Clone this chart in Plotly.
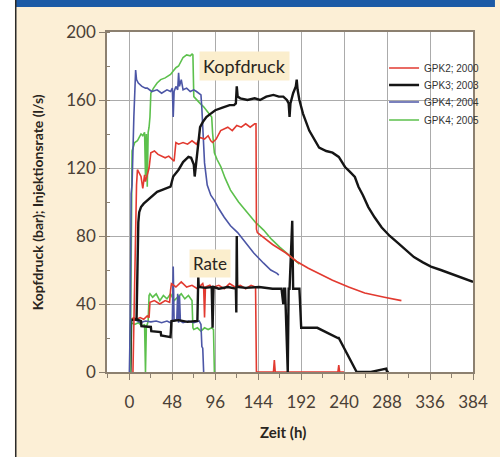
import plotly.graph_objects as go

# ---------------- data ----------------
series_names = ["GPK2; 2000", "GPK3; 2003", "GPK4; 2004", "GPK4; 2005"]

# GPK2; 2000 (red)
gpk2_p_t = [4, 6, 8, 9, 11, 13, 15, 17, 18, 20, 22, 24, 28, 32, 36, 40, 44, 48, 50, 52, 55, 60, 65, 70, 75, 79, 84, 88, 91, 93, 97, 102, 106, 110, 115, 120, 125, 130, 135, 140, 141.5, 142, 143, 150, 160, 175, 187, 200, 215, 227, 245, 263, 285, 304]
gpk2_p_v = [0, 60, 110, 119, 117, 115, 108, 116, 112, 117, 120, 129, 130, 128, 127, 126, 127, 125, 124, 135, 134, 135, 134, 136, 134, 138, 137, 139, 136, 135, 137, 142, 143, 144, 142, 145, 144, 146, 144, 146, 146, 84, 82, 79, 75, 70, 65, 61, 57, 54, 50, 46.5, 44, 42]
gpk2_r_t = [0, 1, 2, 5, 8, 12, 16, 20, 22, 23, 28, 34, 40, 45, 46, 47, 52, 58, 64, 70, 76, 82, 83, 84, 85, 90, 92, 93, 94, 100, 106, 112, 118, 124, 130, 136, 141, 142, 150, 161, 162, 163, 200, 233, 234, 235, 240]
gpk2_r_v = [0, 0, 31, 32, 31, 32, 31, 33, 32, 41, 42, 40, 42, 41, 48, 52, 50, 53, 50, 51, 49, 52, 50, 32, 50, 51, 50, 36, 50, 51, 49, 52, 50, 51, 49, 51, 50, 0, 0, 0, 7, 0, 0, 0, 4, 0, 0]

# GPK3; 2003 (black)
gpk3_p_t = [8, 9, 10, 11, 13, 16, 20, 25, 31, 36, 42, 46, 49, 52, 55, 60, 66, 69, 72, 73, 75, 77, 79, 82, 86, 91, 96, 104, 112, 117, 119, 120, 121, 124, 132, 140, 146, 153, 161, 167, 172, 176, 178, 179, 180, 183, 186, 187, 188, 190, 194, 201, 212, 220, 227, 234, 241, 246, 252, 256, 261, 267, 274, 282, 291, 300, 309, 318, 328, 337, 348, 359, 372, 384]
gpk3_p_v = [30, 70, 88, 94, 97, 99, 101, 103, 106, 107, 108, 109, 115, 117, 119, 123.5, 126.5, 126, 122, 115, 125, 135, 144, 147, 150, 152, 154, 155.5, 157, 157, 158, 168, 162, 161, 160, 161, 160, 162, 163, 162, 162, 160, 158, 150, 158, 164, 168, 172, 166, 160, 152, 142, 132, 130, 129, 126.5, 120.6, 118, 114.7, 109, 104, 97, 91, 85, 80, 76, 71.5, 67.6, 64.5, 62, 60, 58, 55.5, 53]
gpk3_r_t = [0, 1, 2, 8, 13, 13.5, 24, 24.5, 35, 35.5, 46, 47, 55, 65, 76, 77, 77.5, 85, 92, 93, 94, 100, 110, 119, 119.5, 120, 120.5, 130, 145, 160, 170, 172, 173, 174, 177, 178, 179, 182, 183, 184, 190, 192, 193, 210, 233, 234, 254, 255, 256, 270, 287, 288, 289, 290]
gpk3_r_v = [0, 0, 30.6, 31, 30, 27, 26.5, 24, 23.5, 21.5, 20.5, 30, 30.5, 29.5, 30, 56, 50, 49.5, 50, 26, 50, 49, 50, 49, 35, 80, 50, 49.5, 50, 49, 49, 40, 49, 49, 0, 49, 49, 89, 49, 49, 49, 26, 26, 26, 20, 20, 0, 0, 0, 0, 2, 0, 0, 0]

# GPK4; 2004 (blue)
gpk4a_p_t = [0, 1, 2, 3, 5, 7, 8, 10, 14, 18, 20, 25, 31, 36, 42, 46, 48, 49, 50, 52, 54, 55, 56, 58, 60, 64, 68, 72, 75, 78, 80, 81, 82, 84, 87, 91, 95, 100, 106, 113, 121, 130, 139, 150, 158, 165, 167]
gpk4a_p_v = [0, 30, 105, 110, 150, 177.6, 172, 170, 168, 167, 167, 165, 166, 164, 166, 165, 167, 150, 165, 168, 166, 176, 168, 172, 166, 167, 165, 166, 165, 164, 163, 155, 142, 123, 110, 104, 101, 96, 91, 86, 82, 76, 70, 64, 60, 58, 57]
gpk4a_r_t = [0, 1, 2, 6, 12, 18, 24, 30, 36, 42, 46, 48, 49, 50, 53, 54, 55, 56, 57, 60, 66, 72, 78, 80, 81, 82, 83]
gpk4a_r_v = [0, 0, 30, 31, 29, 30, 29.5, 30, 29, 30, 29, 30, 62, 30, 31, 46, 29, 45, 30, 29, 30, 29, 30, 28, 15, 14, 0]

# GPK4; 2005 (green)
gpk4b_p_t = [1, 2, 3, 6, 9, 11, 13, 15, 17, 18, 19, 20, 21, 22, 23, 24, 27, 31, 35, 40, 46, 49, 52, 55, 57, 60, 64, 68, 70, 71, 72, 75, 79, 83, 86, 90, 92, 93, 95, 98, 102, 107, 113, 122, 132, 141, 150, 159, 168, 178, 187, 190]
gpk4b_p_v = [0, 60, 130, 135, 136, 138, 140, 139, 141, 115, 140, 109, 141, 144, 150, 164, 167, 170, 172, 173, 175, 177, 179, 180, 182, 185, 186.5, 186, 187, 186.5, 162, 160, 158, 156, 154, 152, 150, 140.6, 129, 125, 121, 114, 107, 100, 93.5, 88, 83.5, 78, 73.5, 69, 64.7, 63.5]
gpk4b_r_t = [0, 1, 2, 6, 10, 14, 17, 18, 19, 20, 21, 22, 23, 26, 30, 34, 38, 42, 46, 50, 54, 58, 62, 66, 70, 71, 72, 76, 80, 84, 88, 92, 94, 95, 96]
gpk4b_r_v = [0, 0, 29, 28, 29, 27, 28, 0, 27, 28, 30, 45, 46, 44, 46, 42, 45, 43, 46, 42, 44, 46, 43, 45, 42, 26, 25, 26, 24, 26, 25, 26, 25, 0, 0]

x_ticks = [0, 48, 96, 144, 192, 240, 288, 336, 384]
y_ticks = [0, 40, 80, 120, 160, 200]

# ---------------- styling ----------------
colors = ["#e23a30", "#151515", "#4c56a6", "#5cc04c"]
widths = [1.6, 2.4, 1.6, 1.6]
legend_ids = ["legend", "legend2", "legend3", "legend4"]
legend_y = [0.894, 0.844, 0.794, 0.741]
pressures = [(gpk2_p_t, gpk2_p_v), (gpk3_p_t, gpk3_p_v), (gpk4a_p_t, gpk4a_p_v), (gpk4b_p_t, gpk4b_p_v)]
rates = [(gpk2_r_t, gpk2_r_v), (gpk3_r_t, gpk3_r_v), (gpk4a_r_t, gpk4a_r_v), (gpk4b_r_t, gpk4b_r_v)]

fig = go.Figure()
order = [3, 2, 0, 1]  # drawing order (black on top)
for i in order:
    fig.add_trace(go.Scatter(x=rates[i][0], y=rates[i][1], mode="lines",
                             line=dict(color=colors[i], width=widths[i]),
                             legendgroup=series_names[i], showlegend=False))
for i in order:
    fig.add_trace(go.Scatter(x=pressures[i][0], y=pressures[i][1], mode="lines",
                             line=dict(color=colors[i], width=widths[i]),
                             name=series_names[i], legendgroup=series_names[i],
                             showlegend=True, legend=legend_ids[i]))

beige = "#fcefd6"
tick_font = dict(family="Lato", size=17, color="#4a4036")
axis_col = "#8c8070"
grid_col = "#ababab"
legend_font = dict(family="Liberation Sans Narrow, Liberation Sans", size=10, color="#333333")

layout_legends = {}
for lid, ly in zip(legend_ids, legend_y):
    layout_legends[lid] = dict(x=0.757, y=ly, xanchor="left", yanchor="middle",
                               bgcolor="rgba(0,0,0,0)", font=legend_font)

fig.update_layout(
    width=500, height=457,
    margin=dict(l=107, r=20, t=32, b=85),
    paper_bgcolor=beige, plot_bgcolor="white",
    showlegend=True,
    xaxis=dict(range=[-25, 384], tickvals=x_ticks, ticktext=[str(v) for v in x_ticks],
               showgrid=True, gridcolor=grid_col, gridwidth=1,
               showline=True, linecolor=axis_col, linewidth=1.5, mirror=True,
               ticks="outside", ticklen=6, tickcolor=axis_col, tickwidth=1.2,
               minor=dict(dtick=24, tick0=0, ticks="outside", ticklen=4, tickcolor=axis_col, showgrid=False),
               tickfont=tick_font, zeroline=False, ticklabelstandoff=8),
    yaxis=dict(range=[0, 200], tickvals=y_ticks,
               showgrid=True, gridcolor=grid_col, gridwidth=1,
               showline=True, linecolor=axis_col, linewidth=1.5, mirror=True,
               ticks="outside", ticklen=6, tickcolor=axis_col, tickwidth=1.2,
               minor=dict(dtick=20, tick0=0, ticks="inside", ticklen=3, tickcolor=axis_col, showgrid=False),
               tickfont=tick_font, zeroline=False),
    **layout_legends,
)

# frame decorations
fig.add_shape(type="rect", xref="paper", yref="paper", x0=-0.30, x1=-0.252, y0=-0.26, y1=1.10,
              fillcolor="white", line=dict(width=0), layer="below")
fig.add_shape(type="rect", xref="paper", yref="paper", x0=-0.2493, x1=1.06, y0=1.0735, y1=1.10,
              fillcolor="#1c5aa6", line=dict(width=0))
fig.add_shape(type="line", xref="paper", yref="paper", x0=-0.2493, x1=-0.2493, y0=-0.26, y1=1.10,
              line=dict(color="#2a2a2a", width=1.5))

# titles
fig.add_annotation(text="<b>Zeit (h)</b>", xref="paper", yref="paper", x=(286 - 107) / 373, y=(372 - 432) / 340,
                   xanchor="center", yanchor="middle",
                   showarrow=False, font=dict(family="Lato", size=15, color="#2a2520"))
fig.add_annotation(text="<b>Kopfdruck (bar); Injektionsrate (l/s)</b>", xref="paper", yref="paper",
                   x=(36 - 107) / 373, y=0.5, textangle=-90, showarrow=False,
                   xanchor="center", yanchor="middle",
                   font=dict(family="Lato", size=14, color="#2a2520"))

# labels in the plot
fig.add_annotation(text="Kopfdruck", x=129, y=180, showarrow=False,
                   font=dict(family="Lato", size=18, color="#2a2520"),
                   bgcolor="#fbeecd", borderpad=3)
fig.add_annotation(text="Rate", x=90, y=64, showarrow=False,
                   font=dict(family="Lato", size=17, color="#2a2520"),
                   bgcolor="#fbeecd", borderpad=3)

fig.write_html("out.html", config={"displayModeBar": False},
               post_script="document.body.style.margin='0px';")
